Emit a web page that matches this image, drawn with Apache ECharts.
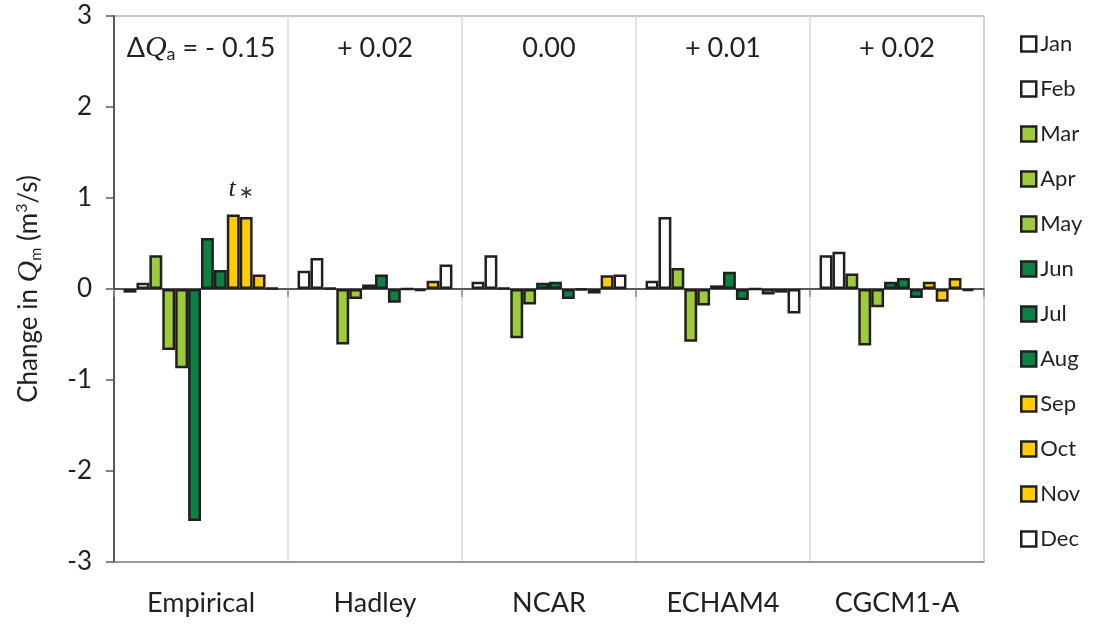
<!DOCTYPE html>
<html><head><meta charset="utf-8">
<script src="https://cdn.jsdelivr.net/npm/echarts@6/dist/echarts.min.js"></script>
<style>html,body{margin:0;padding:0;background:#fff}#c{width:1094px;height:624px}</style>
</head><body><div id="c"></div>
<script>
// ---- data ----
const groups = ['Empirical', 'Hadley', 'NCAR', 'ECHAM4', 'CGCM1-A'];
const months = ['Jan','Feb','Mar','Apr','May','Jun','Jul','Aug','Sep','Oct','Nov','Dec'];
const jan = [-0.04, 0.20, 0.08, 0.09, 0.37];
const feb = [0.07, 0.34, 0.37, 0.79, 0.41];
const mar = [0.37, 0.01, 0.01, 0.23, 0.17];
const apr = [-0.67, -0.61, -0.54, -0.58, -0.62];
const may = [-0.87, -0.11, -0.17, -0.18, -0.20];
const jun = [-2.55, 0.05, 0.07, 0.04, 0.08];
const jul = [0.56, 0.16, 0.08, 0.19, 0.12];
const aug = [0.21, -0.15, -0.11, -0.12, -0.10];
const sep = [0.82, 0.00, -0.01, 0.00, 0.08];
const oct = [0.79, -0.02, -0.05, -0.06, -0.14];
const nov = [0.16, 0.09, 0.15, -0.04, 0.12];
const dec = [0.01, 0.27, 0.16, -0.27, -0.02];
const deltaQa = ['- 0.15', '+ 0.02', '0.00', '+ 0.01', '+ 0.02'];
const yMin = -3, yMax = 3, yStep = 1;

// ---- styles ----
const WHITE = '#ffffff', LG = '#9dcb3c', DG = '#0b8243', YL = '#ffcc00';
const monthColors = [WHITE, WHITE, LG, LG, LG, DG, DG, DG, YL, YL, YL, WHITE];
const values = [jan, feb, mar, apr, may, jun, jul, aug, sep, oct, nov, dec];
const INK = '#231f20';
const FONT = 'Lato';

const series = months.map((m, i) => {
  let data = values[i].slice();
  if (m === 'Sep') {
    data = data.map((v, j) => j === 0 ? {
      value: v,
      label: {
        show: true, position: 'top', distance: 4, offset: [8, -8],
        formatter: '{t|t} {s|∗}',
        rich: {
          t: { fontFamily: 'Liberation Serif', fontStyle: 'italic', fontSize: 26, color: INK },
          s: { fontFamily: 'DejaVu Sans', fontSize: 18, color: '#333', padding: [8, 0, 0, 0] }
        }
      }
    } : v);
  }
  return {
    name: m, type: 'bar', xAxisIndex: 0, data: data,
    barGap: '0%', barCategoryGap: '11%',
    itemStyle: { color: monthColors[i], borderColor: INK, borderWidth: 2.5 },
    emphasis: { disabled: true }
  };
});

const chart = echarts.init(document.getElementById('c'), null, { renderer: 'canvas' });
chart.setOption({
  animation: false,
  textStyle: { fontFamily: FONT },
  grid: { left: 114, right: 110, top: 16, bottom: 62, show: true, borderColor: '#8c8c8c', borderWidth: 1 },
  legend: {
    orient: 'vertical', left: 1015, top: 28,
    itemWidth: 15, itemHeight: 15, itemGap: 23,
    icon: 'rect',
    itemStyle: { borderColor: INK, borderWidth: 2.5 },
    textStyle: { fontFamily: FONT, fontSize: 22, color: INK, lineHeight: 22, padding: [0, 0, 0, -1] },
    data: months
  },
  xAxis: [{
    type: 'category', data: groups, position: 'bottom',
    axisLine: { onZero: false, show: true, lineStyle: { color: '#8c8c8c', width: 1.5 } },
    axisTick: { show: false },
    axisLabel: { fontFamily: FONT, fontSize: 27, color: INK, margin: 28 },
    splitLine: { show: true, lineStyle: { color: '#d9d9d9', width: 1.5 } }
  }, {
    type: 'category', data: groups, position: 'bottom',
    axisLine: { onZero: true, show: true, lineStyle: { color: INK, width: 1.5 } },
    axisTick: { show: true, length: 8, lineStyle: { color: '#8c8c8c', width: 1.5 } },
    axisLabel: { show: false },
    splitLine: { show: false }
  }],
  yAxis: {
    type: 'value', min: yMin, max: yMax, interval: yStep,
    axisLine: { show: true, lineStyle: { color: '#595959', width: 2 } },
    axisTick: { show: true, length: 8, lineStyle: { color: '#595959', width: 1.5 } },
    axisLabel: { fontFamily: FONT, fontSize: 26, color: INK, margin: 22 },
    splitLine: { show: false },
    name: 'Change in {q|Q}{sub|m} (m{sup|3}/s)',
    nameLocation: 'middle', nameGap: 70,
    nameTextStyle: {
      fontFamily: FONT, fontSize: 26, color: INK, lineHeight: 30,
      rich: {
        q: { fontFamily: 'Liberation Serif', fontStyle: 'italic', fontSize: 30, color: INK, lineHeight: 30 },
        sub: { fontFamily: FONT, fontSize: 16, color: INK, verticalAlign: 'bottom', lineHeight: 16 },
        sup: { fontFamily: FONT, fontSize: 16, color: INK, verticalAlign: 'top', lineHeight: 16 }
      }
    }
  },
  series: series
});

// annotations above each group
const graphics = groups.map((g, i) => {
  const px = chart.convertToPixel({ xAxisIndex: 0 }, g);
  const py = chart.convertToPixel({ yAxisIndex: 0 }, yMax);
  const txt = i === 0 ? '{d|Δ}{q|Q}{sub|a} = ' + deltaQa[i] : deltaQa[i];
  return {
    type: 'text', x: px, y: py + 32, silent: true,
    style: {
      text: txt, fill: INK, fontFamily: FONT, fontSize: 27,
      align: 'center', verticalAlign: 'middle',
      rich: {
        d: { fontFamily: FONT, fontSize: 27, fill: INK, lineHeight: 30 },
        q: { fontFamily: 'Liberation Serif', fontStyle: 'italic', fontSize: 30, fill: INK, lineHeight: 30 },
        sub: { fontFamily: FONT, fontSize: 18, fill: INK, verticalAlign: 'bottom', lineHeight: 18 }
      }
    }
  };
});
chart.setOption({ graphic: graphics });
</script>
</body></html>
